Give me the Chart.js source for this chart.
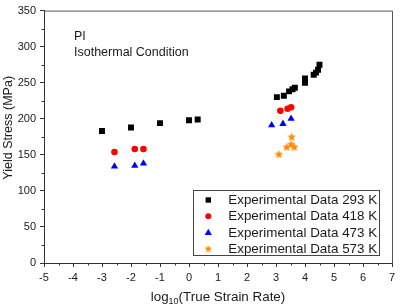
<!DOCTYPE html>
<html>
<head>
<meta charset="utf-8">
<script src="https://cdn.jsdelivr.net/npm/chart.js@4.4.1/dist/chart.umd.min.js"></script>
<style>
html,body{margin:0;padding:0;background:#fff;}
#wrap{width:400px;height:308px;position:relative;}
</style>
</head>
<body>
<div id="wrap"><canvas id="c" width="400" height="308"></canvas></div>
<script>
// ---- data ----
const seriesLabels = ['Experimental Data 293 K','Experimental Data 418 K','Experimental Data 473 K','Experimental Data 573 K'];
const x293 = [-3, -2, -1, 0, 0.3, 3.03, 3.27, 3.45, 3.57, 3.65, 4.0, 4.0, 4.3, 4.38, 4.45, 4.5];
const y293 = [183, 188, 194, 198, 199, 230, 232, 238, 241, 243, 250, 256, 261, 264, 268, 275];
const x418 = [-2.57, -1.87, -1.57, 3.15, 3.4, 3.52];
const y418 = [154, 158, 158, 211, 214, 216];
const x473 = [-2.57, -1.87, -1.57, 2.85, 3.24, 3.52];
const y473 = [134, 135, 138, 191, 193, 200];
const x573 = [3.1, 3.37, 3.52, 3.63, 3.54];
const y573 = [151, 161, 165, 161, 175];
const xTicks = [-5,-4,-3,-2,-1,0,1,2,3,4,5,6,7];
const yTicks = [0,50,100,150,200,250,300,350];
const annotationLines = ['PI','Isothermal Condition'];
const yTitle = 'Yield Stress (MPa)';
const xTitleMain = 'log', xTitleSub = '10', xTitleRest = '(True Strain Rate)';

const FONT = '"Liberation Sans", Arial, sans-serif';
const colors = ['#000000','#ff0000','#0000ff','#ff8a00'];

function starImage(size, color){
  const cv = document.createElement('canvas');
  cv.width = size; cv.height = size;
  const g = cv.getContext('2d');
  const cx = size/2, cy = size/2 + size*0.05, R = size/2, r = R*0.45;
  g.beginPath();
  for(let i=0;i<10;i++){
    const a = -Math.PI/2 + i*Math.PI/5;
    const rr = i%2===0 ? R : r;
    const px = cx + rr*Math.cos(a), py = cy + rr*Math.sin(a);
    if(i===0) g.moveTo(px,py); else g.lineTo(px,py);
  }
  g.closePath();
  g.fillStyle = color; g.fill();
  return cv;
}
const starPt = starImage(9, colors[3]);
const starLeg = starImage(8, colors[3]);

function pts(xs, ys){ return xs.map((x,i)=>({x:x, y:ys[i]})); }

const styles = [
  {pointStyle:'rect', radius:4.2},
  {pointStyle:'circle', radius:3.3},
  {pointStyle:'triangle', radius:4.2},
  {pointStyle:starPt, radius:4.5}
];
const dataArr = [pts(x293,y293), pts(x418,y418), pts(x473,y473), pts(x573,y573)];

const datasets = dataArr.map((d,i)=>({
  label: seriesLabels[i],
  data: d,
  pointStyle: styles[i].pointStyle,
  pointRadius: styles[i].radius,
  pointHoverRadius: styles[i].radius,
  backgroundColor: colors[i],
  borderColor: colors[i],
  borderWidth: 0,
  showLine: false
}));

const decor = {
  id:'decor',
  afterDraw(chart){
    const ctx = chart.ctx;
    const a = chart.chartArea;
    const xs = chart.scales.x, ys = chart.scales.y;
    ctx.save();
    // frame top/right
    ctx.strokeStyle = '#555';
    ctx.lineWidth = 1;
    ctx.beginPath();
    ctx.moveTo(a.left, a.top+0.5); ctx.lineTo(a.right+0.5, a.top+0.5);
    ctx.lineTo(a.right+0.5, a.bottom);
    ctx.stroke();
    // minor ticks
    ctx.strokeStyle = '#333';
    ctx.beginPath();
    for(let v=xTicks[0]+0.5; v<xTicks[xTicks.length-1]; v+=1){
      const p = Math.round(xs.getPixelForValue(v))+0.5;
      ctx.moveTo(p, a.bottom); ctx.lineTo(p, a.bottom+2.5);
    }
    for(let v=yTicks[0]+25; v<yTicks[yTicks.length-1]; v+=50){
      const p = Math.round(ys.getPixelForValue(v))+0.5;
      ctx.moveTo(a.left, p); ctx.lineTo(a.left-2.5, p);
    }
    ctx.stroke();
    // annotation
    ctx.fillStyle = '#1a1a1a';
    ctx.font = '12.5px ' + FONT;
    ctx.textBaseline = 'middle';
    ctx.textAlign = 'left';
    ctx.fillText(annotationLines[0], 74, 37);
    ctx.fillText(annotationLines[1], 74, 52.5);
    // y title
    ctx.save();
    ctx.translate(8.5, (a.top+a.bottom)/2 - 9);
    ctx.rotate(-Math.PI/2);
    ctx.textAlign = 'center';
    ctx.font = '12.5px ' + FONT;
    ctx.fillText(yTitle, 0, 0);
    ctx.restore();
    // x title with subscript
    ctx.font = '13.4px ' + FONT;
    const w1 = ctx.measureText(xTitleMain).width;
    const w3 = ctx.measureText(xTitleRest).width;
    ctx.font = '9px ' + FONT;
    const w2 = ctx.measureText(xTitleSub).width;
    let sx = (a.left + a.right)/2 - (w1+w2+w3)/2;
    const by = 297;
    ctx.textBaseline = 'middle';
    ctx.font = '13.4px ' + FONT;
    ctx.fillText(xTitleMain, sx, by); sx += w1;
    ctx.font = '9px ' + FONT;
    ctx.fillText(xTitleSub, sx, by+4.5); sx += w2;
    ctx.font = '13.4px ' + FONT;
    ctx.fillText(xTitleRest, sx, by);
    // legend
    const L = 193.5, T = 190.5, R = 379.5, B = 255.5;
    ctx.fillStyle = '#fff';
    ctx.fillRect(L, T, R-L, B-T);
    ctx.strokeStyle = '#444';
    ctx.lineWidth = 1;
    ctx.strokeRect(L, T, R-L, B-T);
    const rowY = [200, 216.3, 232.5, 248.5];
    chart.data.datasets.forEach((ds,i)=>{
      const cy = rowY[i], cx = 208.3;
      ctx.fillStyle = colors[i];
      if(i===0){ ctx.fillRect(cx-2.7, cy-2.7, 5.4, 5.4); }
      else if(i===1){ ctx.beginPath(); ctx.arc(cx, cy, 3, 0, Math.PI*2); ctx.fill(); }
      else if(i===2){ ctx.beginPath(); ctx.moveTo(cx, cy-3.8); ctx.lineTo(cx+3.6, cy+2.6); ctx.lineTo(cx-3.6, cy+2.6); ctx.closePath(); ctx.fill(); }
      else { ctx.drawImage(starLeg, cx-4, cy-4); }
      ctx.fillStyle = '#1a1a1a';
      ctx.font = '13.4px ' + FONT;
      ctx.textAlign = 'left';
      ctx.textBaseline = 'middle';
      ctx.fillText(ds.label, 228.3, cy+0.5);
    });
    ctx.restore();
  }
};

new Chart(document.getElementById('c'), {
  type: 'scatter',
  data: { datasets },
  options: {
    responsive: false,
    animation: false,
    events: [],
    layout: { padding: { top: 8, right: 8, left: 0, bottom: 0 } },
    plugins: { legend: { display: false }, tooltip: { enabled: false } },
    scales: {
      x: {
        type: 'linear',
        min: xTicks[0], max: xTicks[xTicks.length-1],
        afterBuildTicks: s => { s.ticks = xTicks.map(v=>({value:v})); },
        afterFit: s => { s.height = 45; },
        grid: { drawOnChartArea: false, drawTicks: true, tickLength: 4, color: '#333' },
        border: { display: true, color: '#333', width: 1 },
        ticks: { padding: 4, color: '#1a1a1a', font: { family: FONT, size: 11 }, maxRotation: 0, autoSkip: false }
      },
      y: {
        type: 'linear',
        min: yTicks[0], max: yTicks[yTicks.length-1],
        afterBuildTicks: s => { s.ticks = yTicks.map(v=>({value:v})); },
        afterFit: s => { s.width = 44; },
        grid: { drawOnChartArea: false, drawTicks: true, tickLength: 4, color: '#333' },
        border: { display: true, color: '#333', width: 1 },
        ticks: { padding: 4, color: '#1a1a1a', font: { family: FONT, size: 11 }, autoSkip: false }
      }
    }
  },
  plugins: [decor]
});
</script>
</body>
</html>
